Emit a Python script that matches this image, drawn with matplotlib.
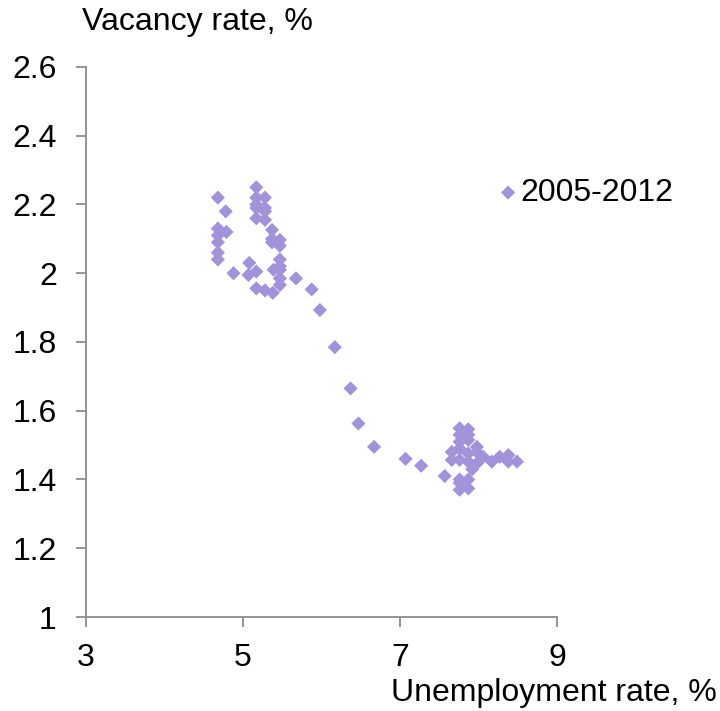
import matplotlib.pyplot as plt

plt.rcParams['font.family'] = ['Liberation Sans', 'DejaVu Sans']

# unemployment rate (%) and vacancy rate (%), 2005-2012
unemployment = [4.68, 4.78, 4.68, 4.79, 4.68, 4.68, 4.68, 4.68,
                5.17, 5.17, 5.28, 5.17, 5.28, 5.17, 5.28, 5.17, 5.28,
                5.37, 5.37, 5.47, 5.37, 5.47, 5.47, 5.47, 5.39, 5.47, 5.47, 5.47,
                5.08, 5.07, 5.17, 4.88, 5.17, 5.28, 5.38,
                5.675, 5.875, 5.98, 6.17, 6.37, 6.47, 6.67, 7.07, 7.27, 7.57,
                7.76, 7.87, 7.76, 7.87, 7.76, 7.87, 7.66, 7.76, 7.98, 7.98,
                7.66, 7.76, 7.87, 7.98, 7.87, 8.06, 8.17, 8.27, 8.38, 8.38, 8.49,
                7.76, 7.87, 7.76, 7.76, 7.87, 7.92]
vacancy = [2.22, 2.18, 2.13, 2.12, 2.11, 2.09, 2.06, 2.04,
           2.25, 2.22, 2.22, 2.20, 2.19, 2.19, 2.18, 2.16, 2.155,
           2.126, 2.10, 2.097, 2.09, 2.08, 2.04, 2.02, 2.01, 2.01, 1.985, 1.966,
           2.03, 1.995, 2.005, 2.0, 1.956, 1.95, 1.943,
           1.985, 1.953, 1.893, 1.785, 1.665, 1.563, 1.495, 1.46, 1.44, 1.41,
           1.549, 1.546, 1.53, 1.53, 1.51, 1.515, 1.48, 1.49, 1.495, 1.48,
           1.457, 1.457, 1.452, 1.447, 1.476, 1.466, 1.452, 1.466, 1.471, 1.452, 1.452,
           1.40, 1.40, 1.39, 1.37, 1.374, 1.43]

x_ticks = [3, 5, 7, 9]
y_ticks = [1, 1.2, 1.4, 1.6, 1.8, 2, 2.2, 2.4, 2.6]
y_labels = ['1', '1.2', '1.4', '1.6', '1.8', '2', '2.2', '2.4', '2.6']

fig = plt.figure(figsize=(7.2, 7.11), dpi=100)
ax = fig.add_axes([0.1194, 0.1322, 0.6542, 0.7736])

ax.scatter(unemployment, vacancy, marker='D', s=52, color='#A292D9',
           edgecolors='none', label='2005-2012', zorder=3)

ax.set_xlim(3, 9)
ax.set_ylim(1, 2.6)
ax.set_xticks(x_ticks)
ax.set_xticklabels([str(t) for t in x_ticks])
ax.set_yticks(y_ticks)
ax.set_yticklabels(y_labels)

for side in ['top', 'right']:
    ax.spines[side].set_visible(False)
for side in ['left', 'bottom']:
    ax.spines[side].set_color('#8c8c8c')
    ax.spines[side].set_linewidth(1.3)
ax.tick_params(axis='both', colors='#8c8c8c', labelcolor='black',
               labelsize=23, length=7, width=1.3)
ax.tick_params(axis='y', pad=14)
ax.tick_params(axis='x', pad=12)

ax.legend(loc='center left', bbox_to_anchor=(0.869, 0.771), frameon=False,
          fontsize=23, handlelength=0.8, handletextpad=0.0, borderaxespad=0,
          borderpad=0, scatterpoints=1)

fig.text(0.114, 0.969, 'Vacancy rate, %', fontsize=23, ha='left', va='center')
fig.text(0.995, 0.025, 'Unemployment rate, %', fontsize=23, ha='right', va='center')

fig.savefig('out.png', dpi=100)
